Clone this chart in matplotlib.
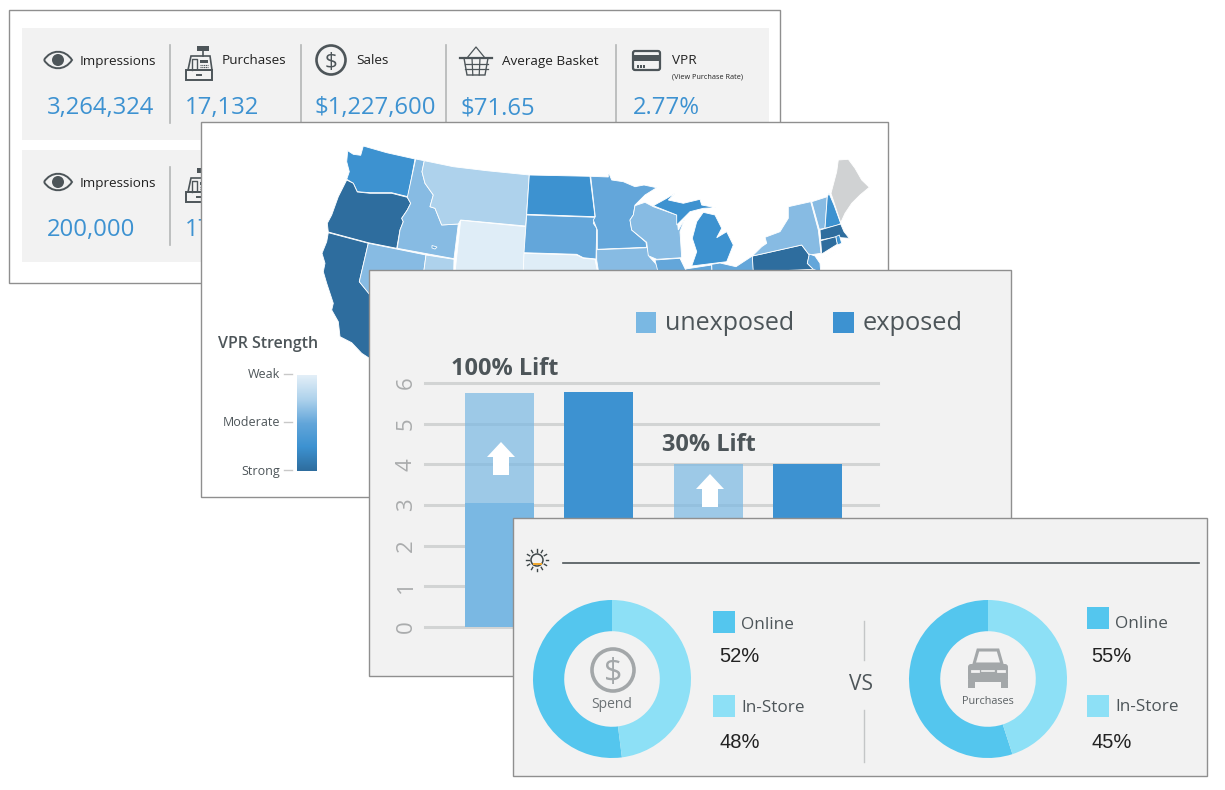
import numpy as np
import matplotlib
matplotlib.use('Agg')
import matplotlib.pyplot as plt
from matplotlib.colors import LinearSegmentedColormap
from matplotlib.patches import Rectangle, Circle, Polygon, FancyBboxPatch, PathPatch
from matplotlib.path import Path

plt.rcParams['font.family'] = ['Open Sans', 'DejaVu Sans']

# top summary rows
metric_names = ['Impressions', 'Purchases', 'Sales', 'Average Basket', 'VPR']
metric_values = ['3,264,324', '17,132', '$1,227,600', '$71.65', '2.77%']
second_row_names = ['Impressions', 'Purchases']
second_row_values = ['200,000', '17,132']

# VPR strength per state, 0 = weak .. 1 = strong, None = no data
state_strength = {
    'WA': 0.75, 'OR': 1.0, 'CA': 1.0, 'ID': 0.38, 'NV': 0.38, 'MT': 0.25, 'WY': 0.02,
    'UT': 0.25, 'SL': 0.5, 'ND': 0.75, 'SD': 0.5, 'NE': 0.02, 'MN': 0.5, 'IA': 0.38, 'WI': 0.38,
    'MI_U': 0.75, 'MI_L': 0.75, 'IL': 0.5, 'IN': 0.5, 'OH': 0.5, 'PA': 1.0, 'NY': 0.38,
    'VT': 0.38, 'NH': 0.75, 'ME': None, 'MA': 1.0, 'CT': 1.0, 'RI': 0.75, 'NJ': 0.5,
    'LI': 0.38,
}

# state outlines in map units
state_outlines = {
    'WA': [(347.7, 150.7), (353.3, 154.3), (360.7, 155.3), (363.3, 146), (386.7, 152.7), (415, 159), (408, 196.7),
           (391.7, 192.7), (370, 192.7), (357.3, 191.7), (353.3, 183.3), (346.7, 179.3), (349.3, 171.7), (346.7, 161.7)],
    'OR': [(346.7, 180), (353.3, 183.3), (357.3, 192), (370, 193.3), (391.7, 193.3), (407.3, 197.3), (410.7, 203.3),
           (407.3, 210), (401.7, 218.3), (403.3, 221.7), (400, 230), (396.7, 248.3), (368.3, 242.7), (328.3, 232),
           (327.3, 223.3), (331.7, 215), (338.3, 196.7)],
    'CA': [(328.3, 232.7), (368.3, 243.3), (359.3, 281.7), (372, 297), (385, 370), (372, 360), (361.7, 353.3), (351.7, 342.7),
           (340, 336.7), (338.3, 321.7), (331.7, 310), (333.3, 303.3), (330, 293.3), (326.7, 283.3), (323.3, 271.7),
           (325, 263.3), (322, 253.3), (326.7, 241.7)],
    'ID': [(415.7, 159), (424.3, 160.7), (422, 171.7), (425, 183.3), (433.3, 195), (430, 206.7), (435, 208.3),
           (441.7, 225), (458.3, 224), (454, 258.7), (397.3, 248.3), (400, 230), (403.3, 221.7), (401.7, 218.3),
           (407.3, 210), (410.7, 203.3), (407.3, 197.3)],
    'MT': [(424.3, 160.7), (453.3, 166.7), (486.7, 170.7), (529.3, 175), (525.7, 226), (460.7, 220), (458.3, 224),
           (441.7, 225), (435, 208.3), (430, 206.7), (433.3, 195), (425, 183.3), (422, 171.7)],
    'WY': [(460.7, 220.3), (525.7, 226.7), (522, 300), (452, 300)],
    'NV': [(368.3, 243.3), (426, 255), (420, 300), (380, 300), (370, 295), (359.3, 281.7)],
    'UT': [(426, 255), (454, 259.3), (453, 300), (420, 300)],
    'SL': [(432, 245.5), (437, 247), (435, 249), (432, 248)],
    'ND': [(529.3, 175), (590, 176.3), (595, 216.7), (526.7, 214.3)],
    'SD': [(526.7, 215), (595, 217.3), (593.3, 223.3), (596.7, 228.3), (596, 259), (583.3, 257.7), (576.7, 254.3),
           (524, 252.7)],
    'NE': [(524, 253.3), (576.7, 255), (583.3, 258.3), (595, 259.3), (603, 300), (522, 300)],
    'MN': [(590.7, 176.3), (608.3, 177), (608.3, 171.7), (611.7, 180), (623.3, 181.7), (635, 186.7), (644, 185),
           (656.7, 187.7), (645, 195), (635, 205), (633.3, 215), (630, 220), (631.7, 230), (646, 242.3), (646.7, 247.3),
           (597.3, 249.3), (597.3, 230), (593.3, 220), (595.3, 216.7)],
    'IA': [(596.7, 249.7), (647.3, 247.7), (649.3, 256.7), (659.3, 267.7), (656.7, 272), (650, 300), (603, 300),
           (596.7, 260)],
    'WI': [(635, 205.7), (645, 202.3), (653.3, 206.7), (676.7, 215), (678.3, 230), (685, 218.3), (680, 231.7),
           (681.7, 257.7), (656.7, 259.3), (648.3, 255.7), (646.7, 242.3), (631.7, 230), (630, 220), (633.3, 215)],
    'MI_U': [(653.3, 205.7), (666.7, 198.3), (675, 193.3), (668.3, 200), (683.3, 203.3), (700, 199.3), (701.7, 205),
             (716, 207.7), (703.3, 208.3), (690, 211.7), (681.7, 220), (676.7, 225), (676.7, 215)],
    'MI_L': [(703.3, 212.3), (715, 215), (721.7, 228.3), (716.7, 237.7), (726.7, 231.7), (733.3, 245), (726.7, 261.7),
             (691.7, 266), (696.7, 251.7), (692.3, 238.3), (696.7, 221.7)],
    'IL': [(655, 260), (680, 258.3), (685.7, 270), (690, 300), (665, 300), (658, 272)],
    'IN': [(685.7, 269), (711.7, 265), (713, 300), (690, 300)],
    'OH': [(711.7, 264.3), (720, 263), (736, 266.7), (752.3, 256), (756, 300), (713, 300)],
    'PA': [(752.3, 256), (761.7, 254), (801.7, 245), (809.3, 255), (807.3, 263.3), (813.3, 269.3), (753.3, 272)],
    'NY': [(765, 237.3), (780, 231.7), (788.3, 218.3), (788.3, 206.7), (810.7, 201.7), (818.3, 230), (821, 253.3),
           (809.3, 255), (801.7, 245), (761.7, 254), (752.3, 256), (761.7, 246.7), (766.7, 243.3)],
    'VT': [(811.7, 201.7), (827.3, 196.7), (825, 228.3), (819.3, 229.3)],
    'NH': [(829, 193.3), (834, 205), (840.7, 223.3), (838.3, 225), (825, 228.3), (827.3, 196.7)],
    'ME': [(831, 193.3), (836.7, 171.7), (838.3, 160), (848.3, 159.3), (855, 168.3), (861.7, 180), (869.3, 187.3),
           (860, 195), (851.7, 203.3), (845, 213.3), (840.7, 222.7)],
    'MA': [(820, 230), (840.7, 224), (844, 231.7), (849.3, 238.3), (835, 237.3), (820.7, 240)],
    'RI': [(835.7, 236.7), (839.3, 235), (841.7, 243.3), (837.3, 245)],
    'CT': [(820.7, 240.7), (835.7, 236.7), (837.3, 244.3), (821.7, 254)],
    'NJ': [(809.3, 254), (815, 256), (820, 263.3), (820.7, 272), (813.3, 269.3), (807.3, 263.3)],
    'LI': [(821.7, 258.3), (836.7, 250), (825, 257)],
}

legend_labels = ['Weak', 'Moderate', 'Strong']

# lift bars
group_pos = [0, 1]
unexposed_base = [3.05, 2.6]
unexposed_top = [5.76, 4.0]
exposed = [5.78, 4.0]
lift_labels = ['100% Lift', '30% Lift']
y_ticks = [0, 1, 2, 3, 4, 5, 6]

# online vs in-store donuts
channel_names = ['Online', 'In-Store']
spend_share = [52, 48]
purchase_share = [55, 45]

BLUE = '#3d92d1'
LIGHT = '#7ab8e3'
DARK = '#4d5559'
PANEL = '#f2f2f2'
EDGE = '#8f8f8f'
ONLINE = '#54c6ee'
STORE = '#8de0f6'
W, H = 1225, 790

fig = plt.figure(figsize=(12.25, 7.9), dpi=100, facecolor='white')


def layer(z):
    ax = fig.add_axes([0, 0, 1, 1], zorder=z)
    ax.set_xlim(0, W)
    ax.set_ylim(H, 0)
    ax.axis('off')
    return ax


def rect_axes(x0, y0, x1, y1, z):
    return fig.add_axes([x0 / W, 1 - y1 / H, (x1 - x0) / W, (y1 - y0) / H], zorder=z)


def panel(ax, x0, y0, x1, y1, color):
    ax.add_patch(Rectangle((x0, y0), x1 - x0, y1 - y0, fc=color, ec=EDGE, lw=1.0))


def eye(ax, cx, cy):
    verts = [(cx - 14, cy), (cx - 7, cy - 11), (cx + 7, cy - 11), (cx + 14, cy),
             (cx + 7, cy + 11), (cx - 7, cy + 11), (cx - 14, cy)]
    codes = [Path.MOVETO, Path.CURVE4, Path.CURVE4, Path.CURVE4, Path.CURVE4, Path.CURVE4, Path.CURVE4]
    ax.add_patch(PathPatch(Path(verts, codes), fc='none', ec=DARK, lw=1.4))
    ax.add_patch(Circle((cx, cy), 6, fc=DARK, ec='none'))


def register(ax, cx, cy):
    ax.add_patch(Polygon([(cx - 11, cy + 5), (cx - 8, cy - 9), (cx + 11, cy - 9), (cx + 13, cy + 5)],
                         fc='none', ec=DARK, lw=1.2))
    ax.add_patch(Rectangle((cx - 13, cy + 5), 26, 10, fc='none', ec=DARK, lw=1.4))
    ax.add_patch(Rectangle((cx - 2, cy - 19), 12, 5, fc=DARK, ec='none'))
    ax.plot([cx + 4, cx + 4], [cy - 14, cy - 9], color=DARK, lw=1.2)
    ax.add_patch(Rectangle((cx + 1, cy - 5), 8, 3, fc=DARK, ec='none'))
    for i in range(3):
        ax.plot([cx + 1, cx + 9], [cy + i * 2, cy + i * 2], color=DARK, lw=0.8, ls=(0, (1, 0.6)))
    ax.plot([cx - 7, cx - 7, cx - 2, cx - 2], [cy + 5, cy - 6, cy - 6, cy + 3], color=DARK, lw=1.0)
    ax.plot([cx - 2, cx + 2], [cy + 10, cy + 10], color=DARK, lw=1.4)


def dollar(ax, cx, cy, r, color, lw, size):
    ax.add_patch(Circle((cx, cy), r, fc='none', ec=color, lw=lw))
    ax.text(cx, cy, '$', ha='center', va='center_baseline', color=color, fontsize=size)


def basket(ax, cx, cy):
    ax.add_patch(Polygon([(cx - 12, cy - 3), (cx + 12, cy - 3), (cx + 9, cy + 14), (cx - 9, cy + 14)],
                         fc='none', ec=DARK, lw=1.0))
    ax.plot([cx - 16, cx + 16], [cy - 3, cy - 3], color=DARK, lw=1.6)
    ax.plot([cx - 9, cx, cx + 9], [cy - 3, cy - 14, cy - 3], color=DARK, lw=0.9)
    for dy in (2.5, 8):
        ax.plot([cx - 11.5, cx + 11.5], [cy + dy, cy + dy], color=DARK, lw=0.9)
    for dx in (-4, 4):
        ax.plot([cx + dx, cx + dx * 0.8], [cy - 3, cy + 14], color=DARK, lw=0.9)


def card(ax, x0, y0):
    ax.add_patch(FancyBboxPatch((x0 + 1, y0 + 1), 27, 19, boxstyle='round,pad=0,rounding_size=2',
                                fc='none', ec=DARK, lw=1.6))
    ax.add_patch(Rectangle((x0, y0 + 5), 29, 6, fc=DARK, ec='none'))
    for i in range(3):
        ax.add_patch(Rectangle((x0 + 5 + i * 3, y0 + 15), 1.6, 3, fc=DARK, ec='none'))


def car(ax, cx, cy):
    c = '#a3a7a9'
    ax.add_patch(Polygon([(cx - 14, cy - 5), (cx - 10, cy - 19), (cx + 10, cy - 19), (cx + 14, cy - 5)],
                         fc='none', ec=c, lw=2.2))
    ax.add_patch(FancyBboxPatch((cx - 20, cy - 5), 40, 18, boxstyle='round,pad=0,rounding_size=3', fc=c, ec='none'))
    ax.add_patch(Rectangle((cx - 20, cy + 11), 7, 8, fc=c, ec='none'))
    ax.add_patch(Rectangle((cx + 13, cy + 11), 7, 8, fc=c, ec='none'))
    ax.plot([cx - 16, cx - 10], [cy + 2, cy + 2], color=PANEL, lw=2.0)
    ax.plot([cx + 10, cx + 16], [cy + 2, cy + 2], color=PANEL, lw=2.0)
    ax.plot([cx - 6, cx + 6], [cy + 2, cy + 2], color=PANEL, lw=1.2)


def sun(ax, cx, cy):
    ax.add_patch(Circle((cx, cy), 6, fc='none', ec='#3e4648', lw=1.1))
    ax.add_patch(Rectangle((cx - 4.5, cy + 2.5), 9, 2.5, fc='#f0a830', ec='none'))
    for a in np.linspace(0, 2 * np.pi, 12, endpoint=False):
        ax.plot([cx + 8.5 * np.cos(a), cx + 11 * np.cos(a)], [cy + 8.5 * np.sin(a), cy + 11 * np.sin(a)],
                color='#3e4648', lw=1.0)


# summary panel
ax1 = layer(1)
panel(ax1, 9, 10, 780, 282.5, 'white')
for y0 in (28, 150):
    ax1.add_patch(Rectangle((22, y0), 747, 112, fc=PANEL, ec='none'))
label_x = [80, 222, 356, 502, 672]
value_x = [47, 185, 315, 461, 633]
for x in (170, 301, 446, 616):
    ax1.plot([x, x], [45, 123], color='#b4b6b7', lw=1.2)
ax1.plot([170, 170], [167, 245], color='#b4b6b7', lw=1.2)
for name, val, lx, vx in zip(metric_names, metric_values, label_x, value_x):
    ax1.text(lx, 61, name, ha='left', va='center', fontsize=9.7, color='#222222')
    ax1.text(vx, 108, val, ha='left', va='center', fontsize=17.2, color=BLUE)
ax1.text(672, 76.5, '(View Purchase Rate)', ha='left', va='center', fontsize=5.2, color='#222222')
for name, val, lx, vx in zip(second_row_names, second_row_values, label_x, value_x):
    ax1.text(lx, 183, name, ha='left', va='center', fontsize=9.7, color='#222222')
    ax1.text(vx, 230, val, ha='left', va='center', fontsize=17.2, color=BLUE)
eye(ax1, 58, 60)
eye(ax1, 58, 182)
register(ax1, 199, 65)
register(ax1, 199, 187)
dollar(ax1, 331, 60, 14.5, DARK, 1.9, 16)
basket(ax1, 476, 61)
card(ax1, 632, 50)

# map panel
ax2 = layer(2)
panel(ax2, 201, 122, 888, 497, 'white')
strength_cmap = LinearSegmentedColormap.from_list('vpr', ['#e3eff8', '#aed2ec', '#63a6da', BLUE, '#2e6d9e'])
map_ax = rect_axes(202, 123, 888, 497, 2.1)
map_ax.set_xlim(202, 888)
map_ax.set_ylim(497, 123)
map_ax.axis('off')
for state, outline in state_outlines.items():
    s = state_strength[state]
    color = '#d0d2d3' if s is None else strength_cmap(s)
    map_ax.add_patch(Polygon(outline, closed=True, fc=color, ec='white', lw=0.6))

ax2b = layer(2.2)
ax2b.text(218, 344, 'VPR Strength', ha='left', va='center', fontsize=11.5, color=DARK, fontweight='semibold')
for name, y in zip(legend_labels, (375, 423, 471)):
    ax2b.text(280, y, name, ha='right', va='center', fontsize=9, color=DARK)
    ax2b.plot([284, 292], [y - 1, y - 1], color='#c8c8c8', lw=1.0)
bar_ax = rect_axes(297, 375, 317, 471, 2.3)
bar_ax.imshow(np.linspace(0, 1, 128).reshape(-1, 1), cmap=strength_cmap, aspect='auto')
bar_ax.axis('off')

# lift panel
ax3 = layer(3)
panel(ax3, 369, 270, 1011, 676, PANEL)
ax3.add_patch(Rectangle((636, 312), 20, 21, fc=LIGHT, ec='none'))
ax3.add_patch(Rectangle((833, 312), 21, 21, fc=BLUE, ec='none'))
ax3.text(665, 323, 'unexposed', ha='left', va='center', fontsize=18, color=DARK)
ax3.text(863, 323, 'exposed', ha='left', va='center', fontsize=18.3, color=DARK)

ax_b = rect_axes(425, 383, 878, 627, 3.1)
ax_b.patch.set_visible(False)
ax_b.set_xlim(-0.593, 1.574)
ax_b.set_ylim(0, 6)
offset = 0.237
width = 0.33
pos = np.array(group_pos)
base = np.array(unexposed_base)
top = np.array(unexposed_top)
ax_b.bar(pos - offset, base, width, color=LIGHT, zorder=2)
ax_b.bar(pos - offset, top - base, width, bottom=base, color=LIGHT, alpha=0.7, zorder=2)
ax_b.bar(pos + offset, exposed, width, color=BLUE, zorder=2)
ax_b.set_yticks(y_ticks)
ax_b.set_xticks([])
ax_b.grid(axis='y', color='#d2d4d4', lw=2.2, zorder=1)
ax_b.set_axisbelow(True)
for line in ax_b.get_ygridlines():
    line.set_clip_on(False)
for s in ax_b.spines.values():
    s.set_visible(False)
ax_b.tick_params(axis='y', length=0, pad=6, labelcolor='#aaacad', labelsize=16, labelrotation=90)
for t in ax_b.get_yticklabels():
    t.set_va('center')

ax3b = layer(3.2)
for label, x, y in zip(lift_labels, (451, 662), (369, 445)):
    ax3b.text(x, y, label, ha='left', va='center', fontsize=16.9, color=DARK, fontweight='bold')
for cx, tip in ((501, 442), (710, 474)):
    ax3b.add_patch(Polygon([(cx, tip), (cx + 14, tip + 15), (cx + 8, tip + 15), (cx + 8, tip + 33),
                            (cx - 8, tip + 33), (cx - 8, tip + 15), (cx - 14, tip + 15)], fc='white', ec='none'))

# online vs in-store panel
ax4 = layer(4)
panel(ax4, 513, 518, 1207, 776, PANEL)
sun(ax4, 537, 560)
ax4.plot([563, 1199], [562.5, 562.5], color=DARK, lw=1.2)
ax4.plot([864, 864], [621, 660], color='#c4c6c7', lw=1.0)
ax4.plot([864, 864], [710, 762], color='#c4c6c7', lw=1.0)
ax4.text(861, 684, 'VS', ha='center', va='center', fontsize=15, color=DARK)


def donut(cx, cy, share):
    ax = rect_axes(cx - 79, cy - 79, cx + 79, cy + 79, 4.1)
    ax.pie(share, colors=[ONLINE, STORE], startangle=90, counterclock=True, radius=1,
           wedgeprops=dict(width=0.395, ec='none'))
    ax.set_xlim(-1, 1)
    ax.set_ylim(-1, 1)


donut(612, 679, spend_share)
donut(988, 679, purchase_share)

ax4b = layer(4.2)
dollar(ax4b, 613, 670, 21, '#a3a7a9', 2.6, 23)
ax4b.text(612, 705, 'Spend', ha='center', va='center', fontsize=10, color='#6c7275', fontweight='medium')
car(ax4b, 988, 669)
ax4b.text(988, 701, 'Purchases', ha='center', va='center', fontsize=7.8, color='#5c6265', fontweight='medium')

rows = [
    (713, 741, 719, 611, 625, 657, 695, 708, 742, spend_share),
    (1087, 1115, 1091, 607, 624, 657, 695, 707, 742, purchase_share),
]
for sq, tx, px, y1, ty1, py1, y2, ty2, py2, share in rows:
    ax4b.add_patch(Rectangle((sq, y1), 22, 22, fc=ONLINE, ec='none'))
    ax4b.add_patch(Rectangle((sq, y2), 22, 22, fc=STORE, ec='none'))
    ax4b.text(tx, ty1, channel_names[0], ha='left', va='center', fontsize=12.3, color=DARK, fontweight='medium')
    ax4b.text(tx, ty2, channel_names[1], ha='left', va='center', fontsize=12.3, color=DARK, fontweight='medium')
    ax4b.text(px, py1, '%d%%' % share[0], ha='left', va='center', fontsize=14.5, color='#222222',
              family='Liberation Sans')
    ax4b.text(px, py2, '%d%%' % share[1], ha='left', va='center', fontsize=14.5, color='#222222',
              family='Liberation Sans')

fig.savefig('out.png', dpi=100)
